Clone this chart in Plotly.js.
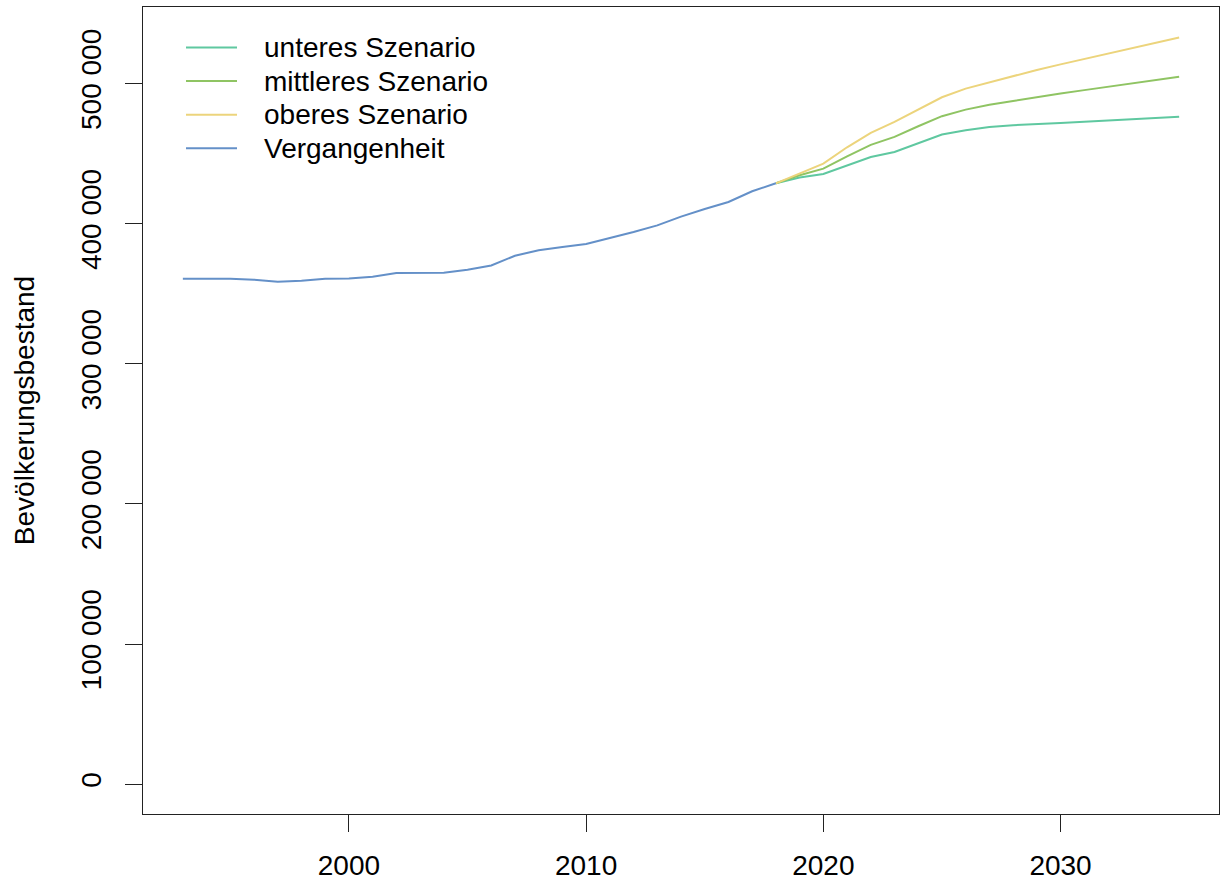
<!DOCTYPE html>
<html>
<head>
<meta charset="utf-8">
<script src="https://cdn.plot.ly/plotly-3.0.1.min.js"></script>
<style>
html,body{margin:0;padding:0;background:#fff;}
#chart{width:1221px;height:884px;}
</style>
</head>
<body>
<div id="chart"></div>
<script>
// ---- data ----
var yearsPast = [1993,1994,1995,1996,1997,1998,1999,2000,2001,2002,2003,2004,2005,2006,2007,2008,2009,2010,2011,2012,2013,2014,2015,2016,2017,2018];
var past = [360700,360700,360700,360000,358600,359300,360700,360900,362100,364800,364800,365000,367100,370200,377100,381000,383300,385500,389800,394000,398800,405000,410500,415500,423100,428800];

var yearsProj = [2018,2019,2020,2021,2022,2023,2024,2025,2026,2027,2028,2029,2030,2031,2032,2033,2034,2035];
var lower = [428800,432900,435500,441700,447600,451200,457600,463600,466700,469000,470300,470900,471800,472700,473600,474500,475400,476300];
var middle = [428800,434500,439300,448100,456200,461900,469500,476700,481400,484800,487600,490400,492900,495300,497800,500200,502500,504800];
var upper = [428800,435700,442900,454500,464800,472600,481400,490200,496400,501000,505500,509700,513700,517600,521500,525300,529100,532900];

var seriesNames = ["unteres Szenario","mittleres Szenario","oberes Szenario","Vergangenheit"];
var xTickVals = [2000,2010,2020,2030];
var yTickVals = [0,100000,200000,300000,400000,500000];
var yTickText = ["0","100 000","200 000","300 000","400 000","500 000"];
var yTitle = "Bevölkerungsbestand";

// ---- styles ----
var colors = ["#5fc8a0","#8fc463","#ecd47c","#6490c8"];
var FONT = "Liberation Sans, Arial, sans-serif";
var FS = 28;

var traces = [
  {x: yearsProj, y: lower, name: seriesNames[0]},
  {x: yearsProj, y: middle, name: seriesNames[1]},
  {x: yearsProj, y: upper, name: seriesNames[2]},
  {x: yearsPast, y: past, name: seriesNames[3]}
].map(function(t, i){
  t.type = "scatter";
  t.mode = "lines";
  t.line = {color: colors[i], width: 2};
  t.showlegend = false;
  t.hoverinfo = "x+y+name";
  return t;
});

// ---- legend drawn as paper-positioned keys + labels ----
var M = {l: 143, r: 2, t: 7, b: 70};
var W = 1221, H = 884;
var plotW = W - M.l - M.r, plotH = H - M.t - M.b;
function px2paperX(px){ return (px - M.l) / plotW; }
function py2paperY(py){ return (H - M.b - py) / plotH; }
var legKeyX0 = 186, legKeyX1 = 237, legTextX = 262, legRow0 = 47.5, legRowStep = 33.6;

var shapes = [], annotations = [];
seriesNames.forEach(function(n, i){
  var yy = py2paperY(legRow0 + i * legRowStep);
  shapes.push({type: "line", xref: "paper", yref: "paper",
    x0: px2paperX(legKeyX0), x1: px2paperX(legKeyX1), y0: yy, y1: yy,
    line: {color: colors[i], width: 2}});
  annotations.push({xref: "paper", yref: "paper", x: px2paperX(legTextX), y: yy,
    xanchor: "left", yanchor: "middle", showarrow: false, text: n,
    font: {family: FONT, size: FS, color: "#000"}});
});

var axisCommon = {
  showline: true,
  mirror: true,
  linecolor: "#222",
  linewidth: 1.3,
  showgrid: false,
  zeroline: false,
  ticks: "outside",
  ticklen: 17,
  tickwidth: 1.3,
  tickcolor: "#222",
  tickfont: {family: FONT, size: FS, color: "#000"}
};

var layout = {
  width: W,
  height: H,
  margin: M,
  paper_bgcolor: "#fff",
  plot_bgcolor: "#fff",
  showlegend: false,
  shapes: shapes,
  annotations: annotations,
  xaxis: Object.assign({}, axisCommon, {
    range: [1991.32, 2036.68],
    tickmode: "array",
    tickvals: xTickVals,
    ticklabelstandoff: 9
  }),
  yaxis: Object.assign({}, axisCommon, {
    range: [-21332, 554632],
    tickmode: "array",
    tickvals: yTickVals,
    ticktext: yTickText,
    tickangle: -90,
    ticklabelstandoff: 13,
    title: {text: yTitle, font: {family: FONT, size: FS, color: "#000"}, standoff: 32}
  })
};

Plotly.newPlot("chart", traces, layout, {displayModeBar: false});
</script>
</body>
</html>
